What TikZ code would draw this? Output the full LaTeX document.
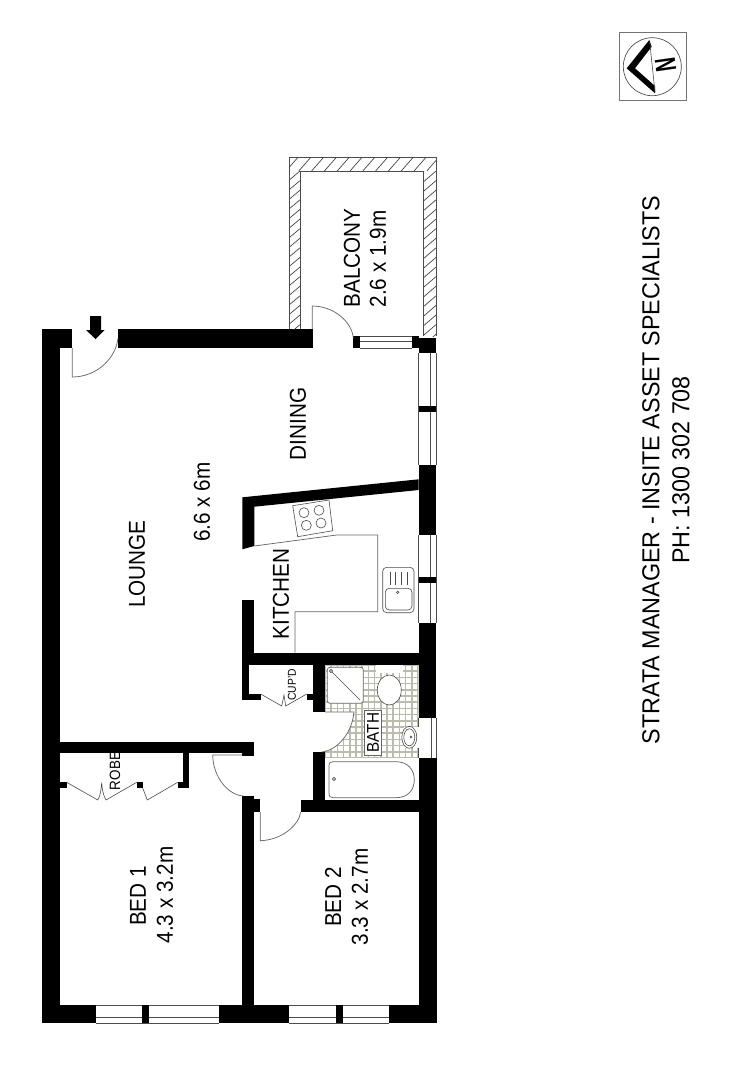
\documentclass[tikz,border=0pt]{standalone}
\usepackage{fontspec}
\setmainfont[FakeStretch=0.9]{Liberation Sans}
\newfontfamily\titlefont[FakeStretch=0.95]{Liberation Sans}
\definecolor{tilegrey}{RGB}{188,188,172}
\tikzset{
  wall/.style={fill=black,draw=none},
  fine/.style={draw=black!60,line width=0.55pt},
  thin line/.style={draw=black!70,line width=0.45pt},
  glass/.style={draw=black!70,line width=0.55pt},
  hatchline/.style={draw=black!75,line width=0.5pt},
  tile/.style={draw=tilegrey,line width=1.2pt},
  room/.style={font=\fontsize{17.25pt}{19pt}\selectfont,rotate=90,inner sep=0pt,align=center},
  small/.style={rotate=90,inner sep=0pt},
  title/.style={font=\titlefont\fontsize{18.4pt}{19pt}\selectfont,rotate=90,inner sep=0pt},
}
\begin{document}
\begin{tikzpicture}[x=0.75pt,y=-0.75pt]
\useasboundingbox (0,0) rectangle (750,1078);
\fill[white] (0,0) rectangle (750,1078);

% bathroom tiled floor
\begin{scope}
\clip (325,665) rectangle (418.7,758);
\foreach \i in {0,...,15} {
  \draw[tile] (325+\i*6.2,665) -- (325+\i*6.2,758);
  \draw[tile] (325,665+\i*6.2) -- (418.7,665+\i*6.2);
}
\end{scope}
\fill[white] (325,712) -- (354,712) .. controls (352,733) and (338,750) .. (321.7,752) -- (321.7,712) -- cycle;

% windows (frame lines)
\draw[glass] (418.7,353) -- (418.7,465) (430.7,353) -- (430.7,465) (436,353) -- (436,465);
\draw[glass] (418.7,535) -- (418.7,623) (430.7,535) -- (430.7,623) (436,535) -- (436,623);
\draw[glass] (418.7,718) -- (418.7,758) (431,718) -- (431,758) (436,718) -- (436,758);
\draw[glass] (95.7,1005) -- (218.7,1005) (95.7,1017.3) -- (218.7,1017.3) (95.7,1023) -- (218.7,1023);
\draw[glass] (289.3,1005) -- (389.3,1005) (289.3,1017.3) -- (389.3,1017.3) (289.3,1023) -- (389.3,1023);
\draw[glass] (360,336) -- (412,336) (360,341.7) -- (412,341.7) (360,348) -- (412,348);

% walls
\fill[wall] (42.3,329.3) rectangle (72.3,348);
\fill[wall] (42.3,329.3) rectangle (60,1023);
\fill[wall] (42.3,1005) rectangle (95.7,1023);
\fill[wall] (142,1005) rectangle (148.7,1023);
\fill[wall] (218.7,1005) rectangle (289.3,1023);
\fill[wall] (336,1005) rectangle (342.7,1023);
\fill[wall] (389.3,1005) rectangle (436.5,1023);
\fill[wall] (118,329.3) rectangle (312.7,348);
\fill[wall] (353.3,336) rectangle (360,348);
\fill[wall] (412,336) rectangle (419,348);
\fill[wall] (418.7,338) rectangle (436,353);
\fill[wall] (418.7,406) rectangle (436,412);
\fill[wall] (418.7,465) rectangle (436,535);
\fill[wall] (418.7,576.7) rectangle (436,582.7);
\fill[wall] (418.7,623) rectangle (436,717.7);
\fill[wall] (418.7,758) rectangle (436.5,1023);
% kitchen walls
\fill[wall] (242.3,497.3) -- (418.7,479.3) -- (418.7,490) -- (254.3,506.7) -- (254.3,546) -- (242.3,549.3) -- cycle;
\fill[wall] (242.3,600) rectangle (254.3,665);
\fill[wall] (242.3,652.7) rectangle (418.7,665);
% cupboard
\fill[wall] (242.3,665) rectangle (248.7,700);
\fill[wall] (242.3,694) rectangle (260.7,700);
\fill[wall] (306.7,694) rectangle (312.7,700);
\fill[wall] (312.7,665) rectangle (325,712);
% bath walls
\fill[wall] (312.7,752.3) rectangle (325,812);
\fill[wall] (300.7,800) rectangle (418.7,812);
% robe and bedrooms
\fill[wall] (60,741.7) rectangle (254,753.3);
\fill[wall] (242.3,753) rectangle (254,756);
\fill[wall] (183.3,753) rectangle (189.3,788.3);
\fill[wall] (177.7,782.3) rectangle (189.3,788.3);
\fill[wall] (60,782.3) rectangle (66.7,788.3);
\fill[wall] (136.7,782.3) rectangle (142.7,788.3);
\fill[wall] (242.3,796) rectangle (254.3,1005);
\fill[wall] (254,799.3) rectangle (260,812.3);

% balcony
\draw[glass] (289.3,329.3) -- (289.3,157.3) -- (436,157.3) -- (436,336);
\draw[glass] (300,329.3) -- (300,171) -- (423.3,171) -- (423.3,336);
\begin{scope}
\clip (289.3,157.3) rectangle (436,171);
\foreach \i in {0,...,11} \draw[hatchline] (286+\i*12.8,171) -- (298+\i*12.8,157.3);
\end{scope}
\begin{scope}
\clip (289.3,171) rectangle (300,329.3);
\foreach \i in {0,...,17} \draw[hatchline] (289.3,180+\i*9.6) -- (300,171+\i*9.6);
\end{scope}
\begin{scope}
\clip (423.3,171) rectangle (436,336);
\foreach \i in {0,...,17} \draw[hatchline] (423.3,182+\i*9.6) -- (436,171+\i*9.6);
\end{scope}

% doors
\draw[fine] (72.3,348) -- (72.3,377) .. controls (97,377) and (116,358) .. (118,338);
\draw[fine] (312.3,329) -- (312.3,306) .. controls (334,306) and (352,322) .. (353.3,338);
\draw[fine] (325,712) -- (354,712) .. controls (352,733) and (338,750) .. (321.7,752);
\draw[fine] (242.3,755) -- (212.7,755) .. controls (213,777) and (228,795) .. (243.3,796);
\draw[fine] (260.3,812) -- (260.3,840.7) .. controls (282,840) and (299,825) .. (300.7,812);
% folding doors
\draw[thin line] (260.7,694) -- (281.7,706) -- (284,695) -- (285.7,706) -- (306.7,694);
\draw[thin line] (66.7,782.3) -- (97.7,800) .. controls (101,795) and (101,788) .. (101.7,782.7) .. controls (102,788) and (103,795) .. (106,800) -- (136.7,782.3);
\draw[thin line] (142.7,788) -- (147.3,800) -- (177.7,782.3);

% entry arrow
\fill[black] (90,316) -- (101,316) -- (101,330) -- (104.7,330) -- (95.5,339) -- (86,330) -- (90,330) -- cycle;

% kitchen fittings
\draw[fine] (254.3,546) -- (336.7,535) -- (377.7,535) -- (377.7,611.7) -- (295,611.7) -- (295,652.7);
\draw[thin line] (292.7,505.7) -- (329,500) -- (332.7,530.7) -- (297.7,536.7) -- cycle;
\foreach \c in {(304,512.7),(319,510.3),(306.3,525.3),(321,523)} \draw[thin line] \c circle (5);
\draw[thin line,rounded corners=3pt] (382.7,567.3) rectangle (414,612.7);
\draw[thin line,rounded corners=3pt] (385.3,588.3) rectangle (412,610);
\foreach \x in {390,395.7,401.7,407.3} \draw[thin line] (\x,571.7) -- (\x,585);
\draw[thin line] (397.7,592.3) circle (1.3);

% bathroom fittings
\draw[fine,fill=white,rounded corners=2pt] (327.3,667.3) rectangle (363.3,703.3);
\draw[thin line] (331,671) circle (1.6) (332,672) -- (360,700);
\fill[white] (375.7,665) rectangle (402.7,672.7);
\draw[thin line,fill=white] (389.3,690) ellipse (12 and 15);
\fill[white] (404,727) rectangle (418.7,748);
\draw[thin line,fill=white] (409.3,737.3) ellipse (7.5 and 11);
\draw[thin line] (409.3,737.3) ellipse (5.5 and 8.5);
\draw[thin line] (411,737) circle (1);
\fill[white] (325,758) rectangle (418.7,800);
\draw[fine] (333,761.7) -- (396,761.7) .. controls (408,761.7) and (414.3,770) .. (414.3,779.7) .. controls (414.3,790) and (408,797.7) .. (396,797.7) -- (333,797.7) .. controls (330,797.7) and (329,796) .. (329,794) -- (329,765) .. controls (329,763) and (330,761.7) .. (333,761.7) -- cycle;
\draw[thin line] (334,779) circle (1.6);

% compass
\draw[draw=black!55,line width=0.6pt] (619,32.7) rectangle (686,100);
\draw[draw=black!70,line width=0.5pt] (652.3,66.7) circle (29);
\fill[black] (649.3,40) -- (626.7,68.3) -- (655,93.3) -- (655,86) -- (635,68.3) -- (651.7,46.7) -- cycle;
\draw[thin line] (649.7,42) -- (655,92);
\node[rotate=-82,inner sep=0pt,font=\fontsize{22pt}{23pt}\selectfont\bfseries] (north) at (665.5,65) {\scalebox{0.72}[1]{N}};

% room labels
\node[room] (balcony) at (352,258) {BALCONY};
\node[room] (balconysize) at (378,259) {2.6 x 1.9m};
\node[room] (dining) at (298,424) {DINING};
\node[room] (lounge) at (137,564) {LOUNGE};
\node[room] (loungesize) at (202,502) {6.6 x 6m};
\node[room] (kitchen) at (281,594) {KITCHEN};
\node[room] (bed1) at (138,896) {BED 1};
\node[room] (bed1size) at (165,895) {4.3 x 3.2m};
\node[room] (bed2) at (333,897) {BED 2};
\node[room] (bed2size) at (360,897) {3.3 x 2.7m};
\node[small,font=\fontsize{8.6pt}{9pt}\selectfont] (cupd) at (292,685) {CUP'D};
\node[small,font=\fontsize{11.2pt}{12pt}\selectfont] (robe) at (115,771) {ROBE};
\node[small,font=\fontsize{12.75pt}{13pt}\selectfont,fill=white,draw=black!60,line width=0.4pt,minimum height=13pt,minimum width=34pt] (bath) at (373,732.5) {BATH};
\node[title] (strata) at (651,470) {STRATA MANAGER - INSITE ASSET SPECIALISTS};
\node[title] (phone) at (681,470) {PH: 1300 302 708};
\end{tikzpicture}
\end{document}
